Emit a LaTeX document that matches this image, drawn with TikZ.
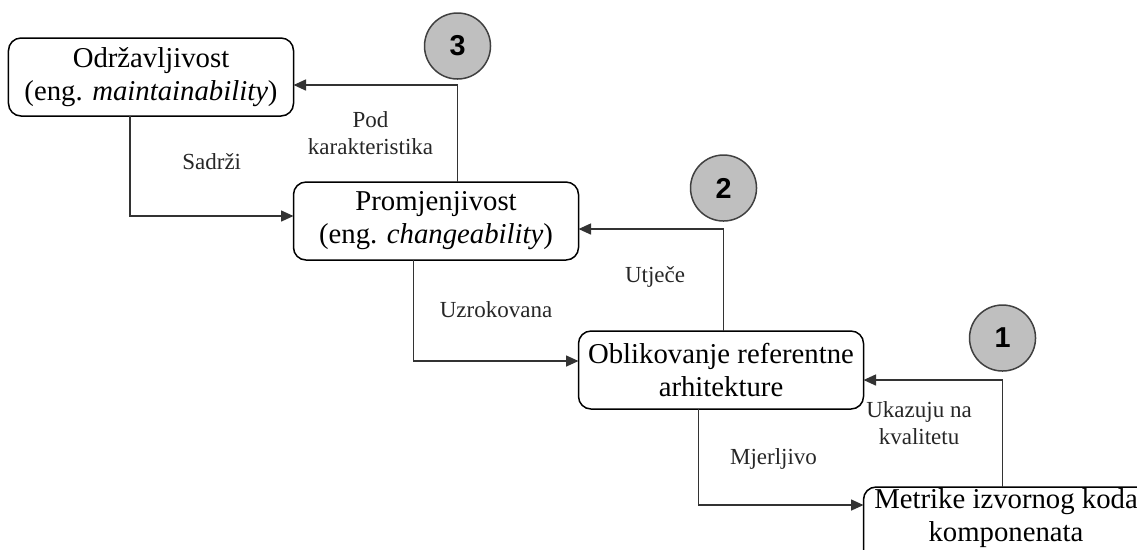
\documentclass[tikz,border=0pt]{standalone}
\usepackage{fontspec}
\setmainfont{Liberation Serif}
\newfontfamily\numfont{Liberation Sans}
\usetikzlibrary{arrows.meta,positioning}

\begin{document}
\begin{tikzpicture}[x=0.4pt, y=-0.4pt, >={Triangle[length=5pt,width=4.4pt]},
  node distance=26.4pt and 0pt,
  box/.style={draw, rounded corners=5pt, align=center, minimum width=114pt, minimum height=31.2pt, inner sep=1.5pt, outer sep=0pt, line width=0.6pt, font=\fontsize{11.5}{13.2}\selectfont},
  marker/.style={circle, draw=black!75, fill=black!25, minimum size=26.4pt, inner sep=0pt, line width=0.6pt, font=\numfont\bfseries\fontsize{11.5}{12}\selectfont},
  flow/.style={->, line width=0.6pt, draw=black!80},
  lbl/.style={align=center, text=black!85, font=\fontsize{9.2}{10.8}\selectfont}]
  \clip (0,0) rectangle (1137,549);
  \node[box] (odrz) at (151,77) {Održavljivost\\(eng. \textit{maintainability})};
  \node[box, below right=of odrz] (prom) {Promjenjivost\\(eng. \textit{changeability})};
  \node[box, below right=28.4pt and 0pt of prom] (oblik) {Oblikovanje referentne\\arhitekture};
  \node[box, below right=31.2pt and 0pt of oblik, minimum height=25.6pt, inner sep=0.5pt] (metr) {Metrike izvornog koda\\komponenata\rule[-9pt]{0pt}{0pt}};
  % numbered markers
  \node[marker] (m3) at ([xshift=65.6pt,yshift=12.4pt]odrz.east) {3};
  \node[marker] (m2) at ([xshift=58pt,yshift=13.2pt]prom.east) {2};
  \node[marker] (m1) at ([xshift=55.6pt,yshift=12.8pt]oblik.east) {1};
  % downward links
  \draw[flow] ([xshift=-8.4pt]odrz.south) |- node[lbl, pos=0.75, yshift=21.6pt] {Sadrži} ([yshift=2pt]prom.west);
  \draw[flow] ([xshift=-9pt]prom.south) |- node[lbl, pos=0.75, yshift=20.4pt] {Uzrokovana} ([yshift=3.6pt]oblik.west);
  \draw[flow] ([xshift=-9pt]oblik.south) |- node[lbl, pos=0.75, xshift=-3pt, yshift=18.4pt] {Mjerljivo} ([yshift=-7.2pt]metr.north west);
  % upward links
  \draw[flow] (prom.north -| m3) |- node[lbl, pos=0.75, xshift=-2pt, yshift=-19.4pt] {Pod\\karakteristika} ([yshift=-3.2pt]odrz.east);
  \draw[flow] (oblik.north -| m2) |- node[lbl, pos=0.75, xshift=1.6pt, yshift=-19.2pt] {Utječe} ([yshift=-3.2pt]prom.east);
  \draw[flow] (metr.north -| m1) |- node[lbl, pos=0.75, xshift=-5.6pt, yshift=-17.2pt] {Ukazuju na\\kvalitetu} ([yshift=-4pt]oblik.east);
\end{tikzpicture}
\end{document}
